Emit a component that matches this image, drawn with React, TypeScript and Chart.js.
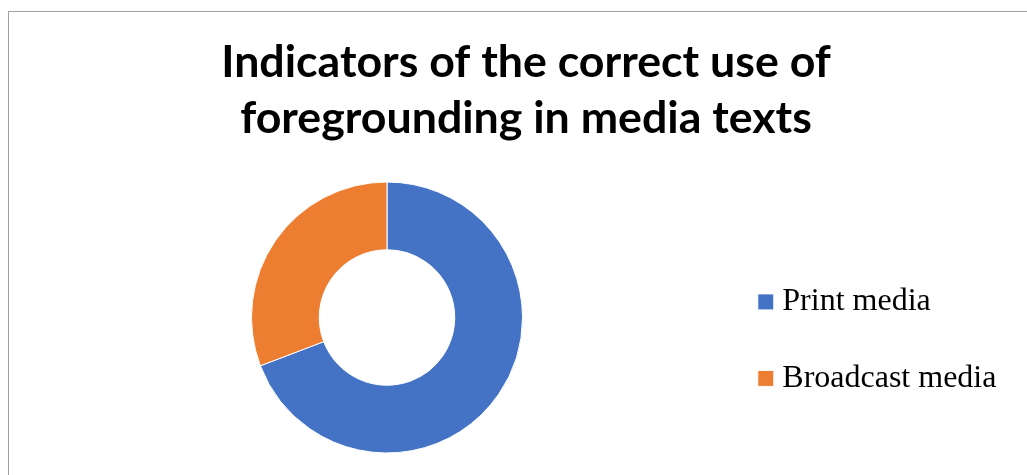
import React, { useEffect, useRef } from "react";
import { Chart, registerables } from "chart.js";

Chart.register(...registerables);

const categories: string[] = ["Print media", "Broadcast media"];
const shares: number[] = [69.2, 30.8];
const sliceColors: string[] = ["#4472C4", "#ED7D31"];
const titleLines: string[] = ["Indicators of the correct use of", "foregrounding in media texts"];

export default function App() {
  const ref = useRef<HTMLCanvasElement | null>(null);

  useEffect(() => {
    if (!ref.current) return;
    const chart = new Chart(ref.current, {
      type: "doughnut",
      data: {
        labels: categories,
        datasets: [
          {
            data: shares,
            backgroundColor: sliceColors,
            borderColor: "#ffffff",
            borderWidth: 1,
          },
        ],
      },
      options: {
        responsive: false,
        animation: false,
        cutout: "50%",
        layout: { padding: { left: 53.2, right: 28.2, top: 0, bottom: 21.5 } },
        plugins: {
          tooltip: { enabled: false },
          title: {
            display: true,
            text: titleLines,
            color: "#000000",
            font: { family: "Lato", weight: "bold", size: 44.7, lineHeight: 56 / 44.7 },
            padding: { top: 35, bottom: 34.5 },
          },
          legend: {
            display: true,
            position: "right",
            align: "center",
            maxWidth: 278,
            title: {
              display: true,
              text: "",
              font: { size: 1, lineHeight: 1 },
              padding: { top: 225.8, bottom: 0 },
            },
            labels: {
              color: "#000000",
              font: { family: "Liberation Serif", size: 32 },
              padding: 44.5,
              usePointStyle: true,
              pointStyle: "rect",
              boxWidth: 1,
              boxHeight: 16,
            },
          },
        },
      },
    });
    return () => chart.destroy();
  }, []);

  return (
    <div style={{ position: "fixed", left: 0, top: 0, width: 1027, height: 475, background: "#ffffff" }}>
      <div
        style={{
          position: "absolute",
          left: 8,
          top: 11,
          width: 1019,
          height: 464,
          borderLeft: "1px solid #a0a0a0",
          borderTop: "1px solid #a0a0a0",
          boxSizing: "border-box",
        }}
      />
      <canvas ref={ref} width={1027} height={475} style={{ position: "absolute", left: 0, top: 0 }} />
    </div>
  );
}
